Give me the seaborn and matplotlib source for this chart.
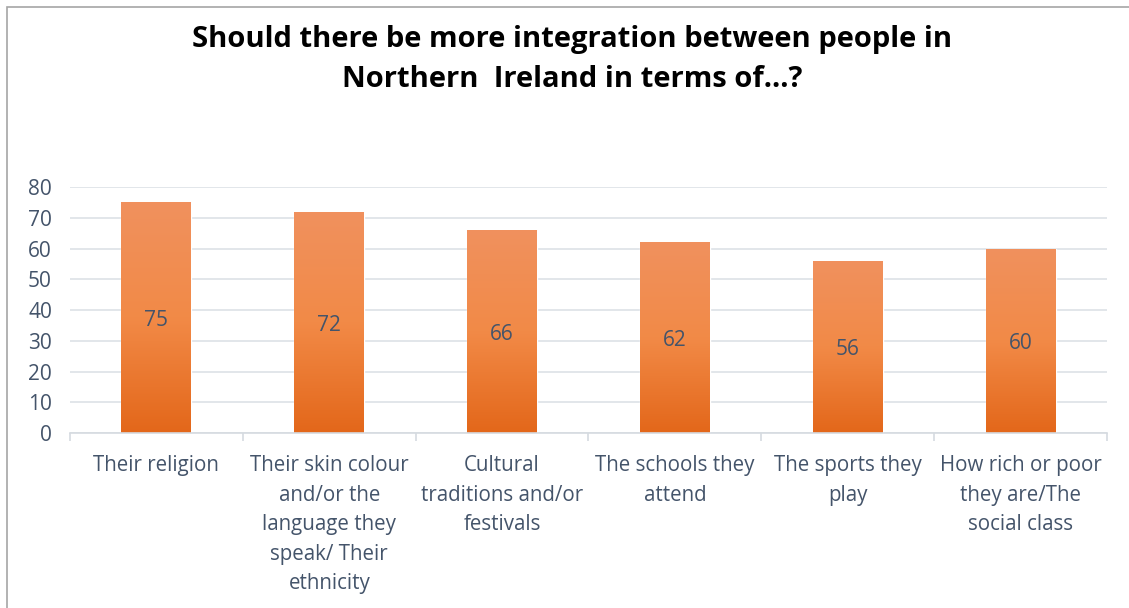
import matplotlib
matplotlib.use("Agg")
import matplotlib.pyplot as plt
import seaborn as sns
import numpy as np
import pandas as pd
from matplotlib.patches import Rectangle
from matplotlib.colors import LinearSegmentedColormap

categories = [
    "Their religion",
    "Their skin colour\nand/or the\nlanguage they\nspeak/ Their\nethnicity",
    "Cultural\ntraditions and/or\nfestivals",
    "The schools they\nattend",
    "The sports they\nplay",
    "How rich or poor\nthey are/The\nsocial class",
]
values = [75, 72, 66, 62, 56, 60]
yticks = [0, 10, 20, 30, 40, 50, 60, 70, 80]
title = "Should there be more integration between people in\nNorthern  Ireland in terms of...?"

sns.set_theme(style="white")
plt.rcParams["font.family"] = ["Open Sans", "DejaVu Sans"]
text_color = "#44546A"

fig = plt.figure(figsize=(11.29, 6.08), dpi=100)
ax = fig.add_axes([70/1129, 1-433/608, (1107-70)/1129, (433-187)/608])

df = pd.DataFrame({"cat": categories, "val": values})
sns.barplot(data=df, x="cat", y="val", ax=ax, color="#ED7D31", width=0.405, saturation=1)

cmap = LinearSegmentedColormap.from_list("g", ["#E3671A", "#F28A47", "#F0915E"])
grad = np.linspace(0, 1, 256).reshape(-1, 1)
for bar in ax.patches:
    x0, y0 = bar.get_x(), bar.get_y()
    w, h = bar.get_width(), bar.get_height()
    im = ax.imshow(grad, extent=[x0, x0 + w, y0, y0 + h], origin="lower",
                   cmap=cmap, aspect="auto", zorder=bar.get_zorder() + 0.1)
    im.set_clip_path(bar)

for i, v in enumerate(values):
    ax.text(i, v / 2 - 1, str(v), ha="center", va="center", fontsize=15,
            color=text_color, zorder=5)

ax.set_xlim(-0.5, len(categories) - 0.5)
ax.set_ylim(0, 80)
ax.set_yticks(yticks)
ax.set_yticklabels([str(t) for t in yticks], fontsize=15, color=text_color)
ax.yaxis.grid(True, color="#DDE1E6", linewidth=1.2)
ax.set_axisbelow(True)
for s in ["top", "right", "left"]:
    ax.spines[s].set_visible(False)
ax.spines["bottom"].set_color("#D5DAE0")
ax.spines["bottom"].set_linewidth(1.2)
ax.tick_params(axis="y", length=0, pad=13)
ax.set_xticks(np.arange(len(categories)))
ax.set_xticklabels(categories, fontsize=14.8, color=text_color, linespacing=1.53, va="top")
ax.tick_params(axis="x", length=0, pad=16)
ax.set_xticks(np.arange(-0.5, len(categories)), minor=True)
ax.tick_params(axis="x", which="minor", length=6, width=1.2, color="#D5DAE0", direction="out", bottom=True)
ax.set_xlabel("")
ax.set_ylabel("")

fig.text(572/1129, 1-59.5/608, title, ha="center", va="center", fontsize=21,
         fontweight="bold", color="black", linespacing=1.5)

fig.patches.append(Rectangle((7/1129, -0.05), 1.1, 1.05 - 7/608, transform=fig.transFigure,
                             fill=False, edgecolor="#A6A6A6", linewidth=1.2))

fig.savefig("out.png", dpi=100)
